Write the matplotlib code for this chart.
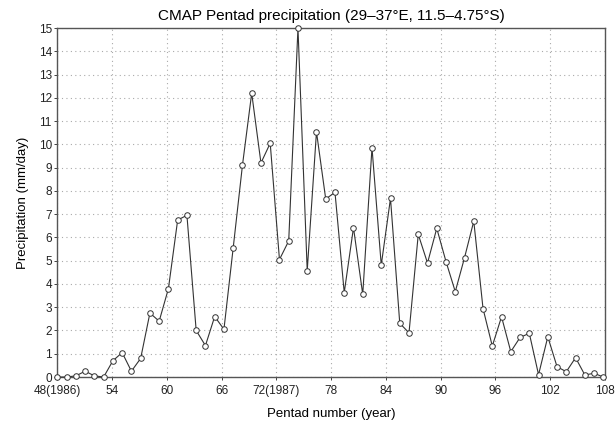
import numpy as np
import matplotlib
matplotlib.use("Agg")
import matplotlib.pyplot as plt

plt.rcParams['font.family'] = ['Liberation Sans', 'DejaVu Sans']

# pentad precipitation, one value per pentad from 48(1986)
precip = [0.0, 0.0, 0.05, 0.25, 0.05, 0.0, 0.7, 1.05, 0.25, 0.8,
          2.75, 2.4, 3.8, 6.75, 6.95, 2.0, 1.35, 2.6, 2.05, 5.55,
          9.1, 12.2, 9.2, 10.05, 5.05, 5.85, 15.0, 4.57, 10.54, 7.65,
          7.94, 3.63, 6.42, 3.55, 9.86, 4.81, 7.68, 2.31, 1.9, 6.13,
          4.9, 6.39, 4.96, 3.67, 5.13, 6.7, 2.94, 1.33, 2.59, 1.09,
          1.7, 1.88, 0.1, 1.73, 0.44, 0.23, 0.83, 0.09, 0.16, 0.0]
start_pentad = 48
pentad_step = 73 / 72  # points are slightly stretched against the tick scale

xticks = [48, 54, 60, 66, 72, 78, 84, 90, 96, 102, 108]
xticklabels = ['48(1986)', '54', '60', '66', '72(1987)', '78', '84', '90', '96', '102', '108']
yticks = list(range(0, 16))

x = start_pentad + np.arange(len(precip)) * pentad_step

fig = plt.figure(figsize=(6.15, 4.23), dpi=100)
ax = fig.add_axes([0.0933, 0.1087, 0.8904, 0.825])

ax.plot(x, precip, color='#333333', lw=0.8, marker='o', ms=4.0,
        mfc='white', mec='#333333', mew=0.7, clip_on=False, zorder=3)

ax.set_xlim(48, 108)
ax.set_ylim(0, 15)
ax.set_xticks(xticks)
ax.set_xticklabels(xticklabels)
ax.set_yticks(yticks)
ax.tick_params(labelsize=8.5, length=2.5, width=0.6, colors='#222222')
ax.tick_params(axis='x', pad=3.5)
ax.tick_params(axis='y', pad=1.5)
ax.grid(True, linestyle=(0, (1, 3)), color='#aaaaaa', lw=0.8)

for s in ax.spines.values():
    s.set_color('#555555')
    s.set_linewidth(1.0)

ax.set_title('CMAP Pentad precipitation (29\u201337\u00b0E, 11.5\u20134.75\u00b0S)',
             fontsize=11, pad=6)
ax.set_xlabel('Pentad number (year)', fontsize=9.5, labelpad=8)
ax.set_ylabel('Precipitation (mm/day)', fontsize=9.5, labelpad=7)

fig.savefig('out.png', dpi=100)
